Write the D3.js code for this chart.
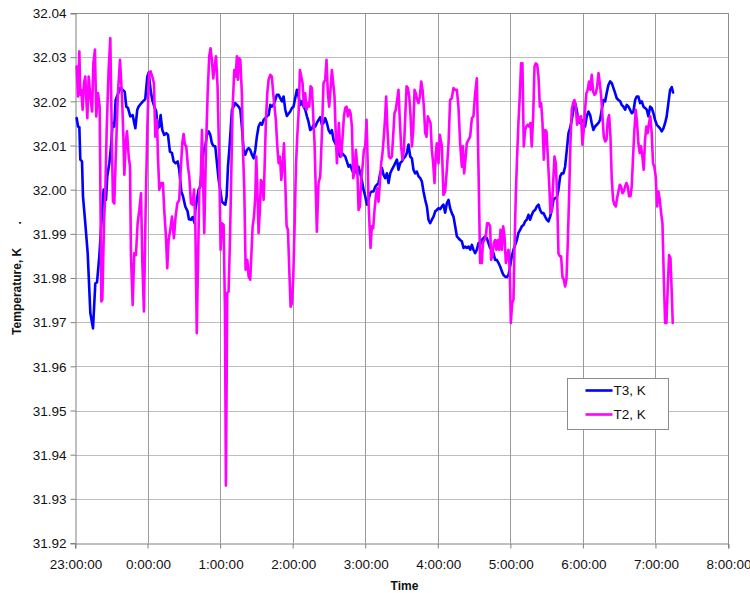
<!DOCTYPE html>
<html>
<head>
<meta charset="utf-8">
<script src="https://cdn.jsdelivr.net/npm/d3@7"></script>
<style>
  html, body { margin: 0; padding: 0; background: #fff; }
  svg { display: block; font-family: "Liberation Sans", Arial, Helvetica, sans-serif; }
</style>
</head>
<body>
<svg id="chart" width="750" height="593"></svg>
<script>
// Time axis: minutes elapsed since 23:00:00
const xTickMinutes = [0, 60, 120, 180, 240, 300, 360, 420, 480, 540];
const xTickLabels = ["23:00:00", "0:00:00", "1:00:00", "2:00:00", "3:00:00", "4:00:00", "5:00:00", "6:00:00", "7:00:00", "8:00:00"];
const yTicks = [31.92, 31.93, 31.94, 31.95, 31.96, 31.97, 31.98, 31.99, 32.00, 32.01, 32.02, 32.03, 32.04];

const seriesNames = ["T3, K", "T2, K"];

// T3 sensor
const t3Minutes = [
  1.4, 2.5, 3.6, 4.4, 5.8, 6.6, 8.5, 10.5, 12.7, 14.9, 16.8, 18.2, 20.1, 21.8, 23.7, 25.6, 26.7, 28.4, 30.0, 31.1,
  32.5, 33.6, 35.3, 37.5, 39.4, 41.1, 42.4, 43.8, 45.7, 47.7, 49.0, 49.9, 51.5, 52.6, 54.3, 56.2, 58.1, 59.8, 60.9, 62.5,
  63.9, 65.6, 67.2, 68.3, 69.7, 70.8, 72.2, 73.8, 75.5, 76.9, 78.5, 80.2, 81.6, 83.2, 84.9, 86.2, 87.9, 89.3, 91.2, 93.1,
  94.2, 95.9, 97.3, 98.9,
  99.5, 100.8, 102.2, 103.6, 105.0, 106.4, 107.7, 109.1, 110.5, 111.9, 113.2, 114.6, 116.0, 117.4, 118.8, 120.1, 121.5, 122.9, 124.3, 125.4,
  126.5, 127.6, 128.7, 129.8, 131.2, 132.5, 133.9, 135.3, 136.7, 138.0, 139.4, 140.8, 142.2, 143.6, 144.9, 146.3, 147.7, 149.1, 150.4, 151.8,
  153.2, 154.6, 156.0, 157.3, 158.7, 160.1, 161.5, 162.8, 164.2, 165.6, 167.0, 168.4, 169.7, 171.1, 172.5, 173.9, 175.2, 176.6, 178.0, 179.4,
  180.7, 182.1, 183.5, 184.9, 186.3, 187.6, 189.0, 190.4, 191.8, 193.1, 194.5, 195.9,
  197.3, 198.7, 200.0, 201.4, 202.8, 204.2, 205.5, 206.9, 208.3, 209.7, 211.1, 212.4, 213.8, 215.2, 216.6, 217.9, 219.3, 220.7, 222.1, 223.5,
  224.8, 226.2, 227.6, 229.0, 230.3, 231.7, 233.1, 234.5, 235.9, 237.2, 238.6, 240.0, 241.4, 242.7, 244.1, 245.5, 246.9, 248.3, 249.6, 251.0,
  252.4, 253.8, 255.1, 256.5, 257.9, 259.3, 260.7, 262.0, 263.4, 264.8, 266.2, 267.5, 268.9, 270.3, 271.7, 273.1, 274.4, 275.8, 277.2, 278.6,
  279.9, 281.3, 282.7, 284.1, 285.5, 286.8, 288.2, 289.6, 291.0, 292.3, 293.7, 295.1,
  296.5, 297.9, 299.2, 300.6, 302.0, 303.4, 304.7, 306.1, 307.5, 308.9, 310.2, 311.6, 313.0, 314.4, 315.8, 317.1, 318.5, 319.9, 321.3, 322.6,
  324.0, 325.4, 326.8, 328.2, 329.5, 330.9, 332.3, 333.7, 335.0, 336.4, 337.8, 339.2, 340.6, 341.9, 343.3, 344.7, 346.1, 347.4, 348.8, 350.2,
  351.6, 353.0, 354.3, 355.7, 357.1, 358.5, 359.8, 361.2, 362.6, 364.0, 365.4, 366.7, 368.1, 369.5, 370.9, 372.2, 373.6, 375.0, 376.4, 377.7,
  379.1, 380.5, 381.9, 383.3, 384.6, 386.0, 387.4, 388.8, 390.1, 391.5, 392.9, 394.3,
  395.7, 397.0, 398.4, 399.8, 401.2, 402.5, 403.9, 405.3, 406.7, 408.1, 409.4, 410.8, 412.2, 413.6, 414.9, 416.3, 417.7, 419.1, 420.5, 421.8,
  423.2, 424.6, 426.0, 427.3, 428.7, 430.1, 431.5, 432.9, 434.2, 435.6, 437.0, 438.4, 439.7, 441.1, 442.5, 443.9, 445.3, 446.6, 448.0, 449.4,
  450.8, 452.1, 453.5, 454.9, 456.3, 457.7, 459.0, 460.4, 461.8, 463.2, 464.5, 465.9, 467.3, 468.7, 470.1, 471.4, 472.8, 474.2, 475.6, 476.9,
  478.3, 479.7, 481.1, 482.4, 483.8, 485.2, 486.6, 488.0, 489.3, 490.7, 492.1, 493.5, 494.6
];
const t3Values = [
  32.0162, 32.0143, 32.0142, 32.0068, 32.0064, 31.9985, 31.9924, 31.9856, 31.9720, 31.9686, 31.9788, 31.9790, 31.9849, 31.9924, 32.0000, 31.9977, 32.0030, 32.0060, 32.0105, 32.0151,
  32.0143, 32.0203, 32.0215, 32.0230, 32.0226, 32.0222, 32.0188, 32.0185, 32.0166, 32.0169, 32.0151, 32.0139, 32.0181, 32.0188, 32.0194, 32.0200, 32.0205, 32.0256, 32.0265, 32.0226,
  32.0203, 32.0188, 32.0177, 32.0139, 32.0143, 32.0169, 32.0135, 32.0124, 32.0128, 32.0124, 32.0086, 32.0083, 32.0064, 32.0060, 32.0064, 32.0045, 31.9996, 31.9985, 31.9962, 31.9951,
  31.9933, 31.9932, 31.9938, 31.9924,
  31.9954, 31.9977, 32.0000, 32.0007, 32.0052, 32.0090, 32.0098, 32.0124, 32.0132, 32.0124, 32.0105, 32.0099, 32.0098, 32.0060, 32.0022, 32.0000, 31.9973, 31.9969, 31.9966, 31.9985,
  32.0052, 32.0090, 32.0135, 32.0181, 32.0188, 32.0196, 32.0192, 32.0188, 32.0181, 32.0143, 32.0090, 32.0079, 32.0090, 32.0094, 32.0090, 32.0079, 32.0071, 32.0090, 32.0120, 32.0143,
  32.0151, 32.0147, 32.0158, 32.0162, 32.0166, 32.0169, 32.0192, 32.0188, 32.0192, 32.0203, 32.0215, 32.0215, 32.0207, 32.0200, 32.0211, 32.0181, 32.0167, 32.0172, 32.0177, 32.0185,
  32.0188, 32.0207, 32.0226, 32.0211, 32.0192, 32.0200, 32.0188, 32.0181, 32.0166, 32.0154, 32.0135, 32.0139,
  32.0147, 32.0143, 32.0151, 32.0158, 32.0164, 32.0147, 32.0151, 32.0162, 32.0151, 32.0135, 32.0128, 32.0135, 32.0113, 32.0105, 32.0098, 32.0083, 32.0075, 32.0083, 32.0079, 32.0075,
  32.0064, 32.0052, 32.0056, 32.0045, 32.0037, 32.0045, 32.0037, 32.0052, 32.0037, 32.0022, 32.0000, 31.9985, 31.9966, 31.9977, 31.9992, 31.9996, 31.9996, 32.0007, 32.0011, 32.0015,
  32.0037, 32.0049, 32.0034, 32.0026, 32.0037, 32.0015, 32.0037, 32.0045, 32.0052, 32.0060, 32.0068, 32.0045, 32.0060, 32.0064, 32.0071, 32.0075, 32.0083, 32.0102, 32.0075, 32.0071,
  32.0045, 32.0037, 32.0041, 32.0030, 32.0026, 32.0019, 31.9996, 31.9977, 31.9962, 31.9932, 31.9924, 31.9932,
  31.9939, 31.9951, 31.9954, 31.9958, 31.9956, 31.9962, 31.9966, 31.9948, 31.9969, 31.9977, 31.9958, 31.9947, 31.9939, 31.9917, 31.9894, 31.9890, 31.9886, 31.9883, 31.9868, 31.9871,
  31.9868, 31.9871, 31.9864, 31.9875, 31.9864, 31.9856, 31.9864, 31.9879, 31.9875, 31.9886, 31.9890, 31.9894, 31.9890, 31.9879, 31.9868, 31.9864, 31.9856, 31.9841, 31.9841, 31.9834,
  31.9826, 31.9815, 31.9807, 31.9803, 31.9802, 31.9807, 31.9826, 31.9849, 31.9864, 31.9875, 31.9886, 31.9902, 31.9909, 31.9917, 31.9920, 31.9928, 31.9932, 31.9943, 31.9932, 31.9943,
  31.9951, 31.9954, 31.9962, 31.9966, 31.9954, 31.9947, 31.9947, 31.9939, 31.9932, 31.9928, 31.9939, 31.9954,
  31.9977, 31.9981, 31.9981, 32.0000, 32.0030, 32.0037, 32.0037, 32.0052, 32.0090, 32.0128, 32.0139, 32.0158, 32.0181, 32.0196, 32.0181, 32.0154, 32.0151, 32.0158, 32.0154, 32.0143,
  32.0166, 32.0177, 32.0169, 32.0151, 32.0135, 32.0143, 32.0147, 32.0151, 32.0158, 32.0181, 32.0203, 32.0200, 32.0219, 32.0237, 32.0245, 32.0241, 32.0230, 32.0219, 32.0207, 32.0203,
  32.0200, 32.0192, 32.0188, 32.0181, 32.0192, 32.0188, 32.0181, 32.0173, 32.0177, 32.0203, 32.0211, 32.0211, 32.0196, 32.0200, 32.0188, 32.0185, 32.0181, 32.0166, 32.0188, 32.0185,
  32.0173, 32.0158, 32.0147, 32.0143, 32.0139, 32.0132, 32.0139, 32.0151, 32.0166, 32.0196, 32.0226, 32.0232, 32.0220
];

// T2 sensor
const t2Minutes = [
  1.4, 2.5, 3.6, 4.4, 5.2, 6.3, 7.4, 8.5, 9.4, 10.2, 11.3, 12.7, 14.1, 15.2, 16.5, 17.6, 19.0, 20.4, 21.8, 22.6,
  24.0, 25.1, 26.2, 27.8, 29.2, 30.6, 31.4, 32.5, 33.9, 35.5, 37.2, 38.9, 40.0, 40.8, 41.9, 43.0, 44.4, 45.5, 46.3, 47.7,
  49.0, 50.4, 51.8, 53.2, 54.6, 55.7, 57.0, 58.4, 59.8, 61.2, 62.5, 63.9, 65.3, 66.4, 67.8, 68.6, 69.7, 71.4, 72.7, 73.8,
  75.2, 76.3, 77.4, 78.8, 80.2, 81.8, 83.2, 84.6, 86.2, 87.3, 88.7, 89.8, 90.9, 92.0, 93.4, 94.5, 95.9, 97.3, 98.4, 99.5,
  100.7,
  102.8, 103.9, 105.0, 106.9, 108.3, 109.7, 111.0, 112.1, 113.2, 114.3, 115.5, 116.6, 117.9, 119.3, 120.4, 121.5, 122.9, 124.0, 124.8, 125.9,
  127.0, 128.1, 129.2, 130.3, 131.7, 132.8, 133.9, 134.7, 135.6, 136.7, 138.0, 138.9, 140.0, 141.1, 142.5, 143.6, 144.9, 145.8, 146.9, 148.0,
  149.1, 149.9, 151.0, 151.8, 152.9, 153.7, 154.9, 156.0, 156.8, 157.9, 159.0, 160.1, 161.5, 162.8, 163.9, 165.0, 166.1, 167.3, 168.4, 169.5,
  170.6, 171.7, 172.8, 173.9, 175.0, 176.1, 177.2, 178.3, 179.4, 180.5, 181.6, 182.7, 183.8, 184.9, 186.0, 187.1, 188.2, 189.3, 190.4, 191.5,
  192.6, 193.7, 194.8, 195.9,
  198.1, 200.0, 201.4, 202.8, 204.2, 205.5, 206.9, 208.0, 209.1, 210.2, 211.3, 212.4, 213.8, 214.6, 215.7, 216.6, 217.4, 218.2, 219.3, 220.2,
  221.3, 222.4, 223.5, 224.6, 225.7, 226.8, 227.9, 229.0, 230.1, 231.2, 232.3, 233.4, 234.5, 235.6, 236.7, 237.8, 238.9, 240.0, 241.1, 241.9,
  242.7, 243.6, 244.4, 245.5, 246.6, 247.7, 248.8, 249.9, 251.0, 252.1, 253.2, 254.3, 255.4, 256.5, 257.3, 258.4, 259.6, 260.7, 262.0, 263.1,
  264.2, 265.3, 266.4, 267.5, 268.6, 269.7, 270.8, 272.0, 273.1, 274.2, 275.3, 276.4, 277.5, 278.6, 279.7, 280.8, 281.9, 283.0, 284.1, 285.2,
  286.3, 287.4, 288.5, 289.6, 290.7, 291.8, 292.9, 294.0, 295.1, 296.2, 297.3, 298.4,
  299.2, 300.6, 301.7, 303.4, 304.7, 306.1, 307.5, 308.9, 310.2, 311.6, 313.0, 314.4, 315.8, 317.1, 318.5, 319.9, 320.7, 321.8, 322.9, 324.0,
  325.4, 326.8, 328.2, 329.5, 330.9, 332.3, 333.7, 335.0, 336.4, 337.3, 338.6, 339.7, 340.8, 341.9, 343.3, 344.1, 345.2, 346.3, 347.4, 348.5,
  349.6, 350.8, 351.9, 353.0, 354.1, 355.2, 356.3, 357.4, 358.5, 359.6, 360.4, 361.5, 362.6, 363.4, 364.5, 365.6, 366.7, 367.8, 368.9, 370.0,
  371.1, 372.2, 373.3, 374.4, 375.5, 376.6, 377.7, 378.9, 380.0, 381.1, 382.2, 383.3, 384.4, 385.5, 386.6, 387.7, 388.8, 389.9, 391.0, 392.1,
  393.2, 394.3,
  395.4, 396.5, 397.6, 398.7, 399.8, 400.9, 402.0, 403.1, 404.2, 405.3, 406.4, 407.5, 408.6, 409.7, 410.8, 411.9, 413.0, 414.1, 415.2, 416.3,
  417.4, 418.5, 419.6, 420.7, 421.8, 422.9, 424.0, 425.1, 426.2, 427.3, 428.5, 429.6, 430.7, 431.8, 432.9, 434.0, 435.1, 436.2, 437.3, 438.4,
  439.5, 440.6, 441.7, 442.8, 443.9, 445.0, 446.1, 447.2, 448.3, 449.4, 450.5, 451.6, 452.7, 453.8, 454.9, 456.0, 457.1, 458.2, 459.3, 460.4,
  461.5, 462.6, 463.7, 464.8, 465.9, 467.0, 468.1, 469.2, 470.3, 471.4, 472.5, 473.6, 474.7, 475.8, 476.9, 478.0, 479.1, 480.2, 481.4, 482.5,
  483.6, 484.7, 485.8, 486.9, 488.0, 489.1, 490.2, 491.3, 492.4, 493.5, 494.3
];
const t2Values = [
  32.0279, 32.0211, 32.0313, 32.0215, 32.0226, 32.0181, 32.0241, 32.0256, 32.0203, 32.0162, 32.0256, 32.0211, 32.0177, 32.0286, 32.0317, 32.0166, 32.0219, 32.0188, 31.9747, 31.9751,
  31.9924, 32.0000, 32.0135, 32.0271, 32.0343, 32.0090, 31.9973, 31.9969, 32.0090, 32.0218, 32.0294, 32.0211, 32.0120, 32.0034, 32.0105, 32.0132, 32.0075, 32.0052, 31.9849, 31.9739,
  31.9856, 31.9852, 31.9924, 31.9954, 31.9992, 31.9834, 31.9724, 31.9954, 32.0135, 32.0264, 32.0268, 32.0256, 32.0241, 32.0120, 32.0158, 32.0075, 32.0000, 32.0015, 32.0015, 31.9954,
  31.9894, 31.9822, 31.9886, 31.9909, 31.9939, 31.9890, 31.9939, 31.9969, 31.9977, 32.0037, 32.0105, 32.0126, 32.0102, 32.0098, 32.0052, 32.0030, 31.9969, 31.9966, 32.0000, 31.9924,
  31.9675,
  32.0000, 32.0015, 32.0135, 31.9902, 32.0090, 32.0218, 32.0302, 32.0320, 32.0294, 32.0252, 32.0279, 32.0302, 32.0234, 32.0060, 31.9864, 31.9924, 31.9920, 31.9728, 31.9330, 31.9766,
  31.9769, 31.9879, 32.0030, 32.0181, 32.0271, 32.0256, 32.0302, 32.0249, 32.0298, 32.0294, 32.0218, 32.0090, 32.0000, 31.9819, 31.9841, 31.9803, 31.9796, 31.9849, 31.9917, 31.9939,
  31.9985, 32.0075, 31.9985, 31.9902, 31.9954, 32.0022, 32.0015, 31.9977, 32.0052, 32.0158, 32.0218, 32.0249, 32.0260, 32.0256, 32.0218, 32.0188, 32.0158, 32.0098, 32.0060, 32.0075,
  32.0022, 32.0052, 32.0105, 32.0015, 31.9917, 31.9909, 31.9819, 31.9735, 31.9743, 31.9803, 31.9917, 32.0052, 32.0120, 32.0173, 32.0271, 32.0256, 32.0241, 32.0188, 32.0218, 32.0181,
  32.0196, 32.0188, 32.0234, 32.0230,
  32.0105, 31.9905, 32.0015, 32.0030, 32.0128, 32.0241, 32.0249, 32.0294, 32.0218, 32.0188, 32.0226, 32.0271, 32.0234, 32.0211, 32.0120, 32.0060, 32.0105, 32.0151, 32.0090, 32.0075,
  32.0120, 32.0166, 32.0185, 32.0188, 32.0166, 32.0181, 32.0173, 32.0143, 32.0026, 32.0045, 32.0090, 32.0052, 31.9954, 31.9962, 32.0022, 32.0052, 32.0090, 32.0098, 32.0158, 32.0075,
  31.9977, 31.9917, 31.9868, 31.9917, 31.9913, 31.9954, 31.9985, 32.0003, 31.9973, 32.0015, 32.0060, 32.0083, 32.0120, 32.0166, 32.0211, 32.0135, 32.0075, 32.0071, 32.0075, 32.0120,
  32.0173, 32.0181, 32.0203, 32.0226, 32.0158, 32.0098, 32.0068, 32.0090, 32.0166, 32.0234, 32.0230, 32.0211, 32.0166, 32.0098, 32.0135, 32.0226, 32.0218, 32.0203, 32.0196, 32.0211,
  32.0245, 32.0226, 32.0188, 32.0128, 32.0120, 32.0166, 32.0158, 32.0151, 32.0090, 32.0060, 32.0015, 32.0083,
  32.0105, 32.0060, 32.0124, 32.0098, 31.9988, 31.9996, 32.0045, 32.0105, 32.0203, 32.0207, 32.0230, 32.0226, 32.0226, 32.0188, 32.0105, 32.0052, 32.0098, 32.0037, 32.0068, 32.0105,
  32.0113, 32.0120, 32.0162, 32.0166, 32.0218, 32.0252, 32.0045, 31.9834, 31.9834, 31.9879, 31.9886, 31.9894, 31.9924, 31.9924, 31.9917, 31.9841, 31.9849, 31.9879, 31.9886, 31.9864,
  31.9886, 31.9864, 31.9909, 31.9864, 31.9917, 31.9894, 31.9834, 31.9849, 31.9864, 31.9811, 31.9698, 31.9743, 31.9751, 31.9864, 31.9985, 32.0075, 32.0151, 32.0211, 32.0286, 32.0286,
  32.0098, 32.0135, 32.0143, 32.0147, 32.0143, 32.0151, 32.0098, 32.0166, 32.0279, 32.0286, 32.0283, 32.0256, 32.0188, 32.0196, 32.0151, 32.0068, 32.0135, 32.0132, 32.0075, 32.0015,
  31.9947, 31.9954,
  32.0015, 32.0075, 32.0060, 31.9985, 31.9856, 31.9849, 31.9849, 31.9803, 31.9796, 31.9781, 31.9796, 31.9879, 31.9985, 32.0105, 32.0181, 32.0196, 32.0203, 32.0188, 32.0147, 32.0166,
  32.0154, 32.0166, 32.0102, 32.0135, 32.0181, 32.0218, 32.0226, 32.0245, 32.0226, 32.0260, 32.0222, 32.0215, 32.0218, 32.0234, 32.0264, 32.0241, 32.0211, 32.0166, 32.0120, 32.0109,
  32.0113, 32.0158, 32.0169, 32.0120, 32.0022, 31.9977, 31.9966, 31.9962, 31.9981, 31.9996, 32.0011, 32.0007, 31.9992, 31.9996, 32.0007, 32.0015, 32.0007, 31.9985, 31.9985, 32.0007,
  32.0075, 32.0135, 32.0181, 32.0151, 32.0105, 32.0083, 32.0098, 32.0075, 32.0045, 32.0113, 32.0143, 32.0128, 32.0151, 32.0166, 32.0128, 32.0060, 32.0052, 32.0030, 31.9962, 31.9996,
  31.9977, 31.9947, 31.9924, 31.9803, 31.9698, 31.9698, 31.9781, 31.9852, 31.9845, 31.9766, 31.9698
];

const seriesColors = ["#0000ff", "#ff00ff"];

const svg = d3.select("#chart");
const margin = { left: 75, top: 13, right: 22, bottom: 50 };
const W = 750, H = 593;
const plotW = W - margin.left - margin.right;   // 653
const plotH = H - margin.top - margin.bottom;   // 530

const x = d3.scaleLinear().domain([0, 540]).range([margin.left, margin.left + plotW]);
const y = d3.scaleLinear().domain([31.92, 32.04]).range([margin.top + plotH, margin.top]);

const crisp = v => Math.round(v) + 0.5;

// horizontal grid
svg.append("g").selectAll("line").data(yTicks.slice(1)).join("line")
  .attr("x1", margin.left).attr("x2", margin.left + plotW)
  .attr("y1", d => crisp(y(d))).attr("y2", d => crisp(y(d)))
  .attr("stroke", "#bdbdbd").attr("stroke-width", 1);

// vertical grid (hours)
svg.append("g").selectAll("line").data(xTickMinutes.slice(1)).join("line")
  .attr("x1", d => crisp(x(d))).attr("x2", d => crisp(x(d)))
  .attr("y1", margin.top).attr("y2", margin.top + plotH)
  .attr("stroke", "#9a9a9a").attr("stroke-width", 1);

// plot frame (top / right)
svg.append("path")
  .attr("d", `M${crisp(margin.left)},${crisp(margin.top)}H${crisp(margin.left + plotW)}V${crisp(margin.top + plotH)}`)
  .attr("fill", "none").attr("stroke", "#8c8c8c").attr("stroke-width", 1);

// axes
const yAxis = d3.axisLeft(y).tickValues(yTicks).tickFormat(d3.format(".2f")).tickSize(5).tickPadding(4);
const gy = svg.append("g").attr("transform", `translate(${crisp(margin.left)},0.5)`).call(yAxis);
gy.select(".domain").attr("stroke", "#808080");
gy.selectAll(".tick line").attr("stroke", "#808080").attr("transform", "translate(0,-0.5)");
gy.selectAll(".tick text").attr("font-size", "13.5px").attr("fill", "#111")
  .attr("font-family", "Liberation Sans, Arial, sans-serif");

const xAxis = d3.axisBottom(x).tickValues(xTickMinutes).tickFormat((d, i) => xTickLabels[i]).tickSize(5).tickPadding(11);
const gx = svg.append("g").attr("transform", `translate(0.5,${crisp(margin.top + plotH)})`).call(xAxis);
gx.select(".domain").attr("stroke", "#808080");
gx.selectAll(".tick line").attr("stroke", "#808080").attr("transform", "translate(-0.5,0)");
gx.selectAll(".tick text").attr("font-size", "13.5px").attr("fill", "#111")
  .attr("font-family", "Liberation Sans, Arial, sans-serif");

// series
const line = d3.line().x(d => x(d[0])).y(d => y(d[1]));
const t3Data = t3Minutes.map((m, i) => [m, t3Values[i]]);
const t2Data = t2Minutes.map((m, i) => [m, t2Values[i]]);

const plot = svg.append("g");
[t3Data, t2Data].forEach((data, k) => {
  plot.append("path").datum(data)
    .attr("d", line)
    .attr("fill", "none")
    .attr("stroke", seriesColors[k])
    .attr("stroke-width", 2.6)
    .attr("stroke-linejoin", "round")
    .attr("stroke-linecap", "round");
});

// axis titles
svg.append("text")
  .attr("transform", `translate(21,${margin.top + plotH / 2}) rotate(-90)`)
  .attr("text-anchor", "middle")
  .attr("font-size", "12px").attr("font-weight", "bold").attr("fill", "#111")
  .style("white-space", "pre")
  .text("Temperature, K       .");

svg.append("text")
  .attr("x", margin.left + plotW / 2 + 3).attr("y", 590)
  .attr("text-anchor", "middle")
  .attr("font-size", "12px").attr("font-weight", "bold").attr("fill", "#111")
  .text("Time");

// legend
const lg = svg.append("g").attr("transform", "translate(567.5,378.5)");
lg.append("rect").attr("width", 101).attr("height", 51)
  .attr("fill", "#fff").attr("stroke", "#8c8c8c").attr("stroke-width", 1);
seriesNames.forEach((name, i) => {
  const row = lg.append("g").attr("transform", `translate(0,${12 + i * 24})`);
  row.append("line").attr("x1", 18).attr("x2", 45).attr("y1", 0).attr("y2", 0)
    .attr("stroke", seriesColors[i]).attr("stroke-width", 2.6);
  row.append("text").attr("x", 46).attr("y", 0).attr("dy", "0.35em")
    .attr("font-size", "13.5px").attr("fill", "#111").text(name);
});
</script>
</body>
</html>
